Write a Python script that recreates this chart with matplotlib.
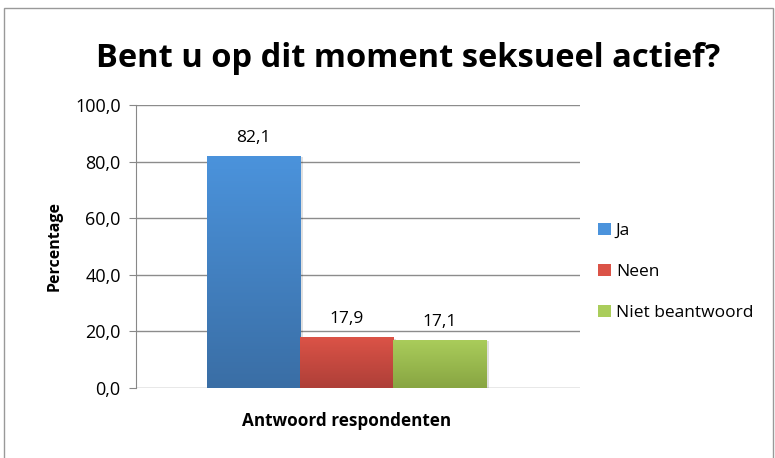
import numpy as np
import matplotlib
matplotlib.use("Agg")
import matplotlib.pyplot as plt
from matplotlib.patches import Rectangle, Patch
from matplotlib.ticker import FuncFormatter

# data
categories = ["Ja", "Neen", "Niet beantwoord"]
values = [82.1, 17.9, 17.1]
top_colors = ["#4b93dc", "#db5347", "#aacd5b"]
bottom_colors = ["#3a6ea5", "#ae3f38", "#88a542"]
yticks = [0, 20, 40, 60, 80, 100]

plt.rcParams['font.family'] = ['Open Sans', 'DejaVu Sans']

fig = plt.figure(figsize=(7.75, 4.58), dpi=100)
ax = fig.add_axes([136 / 775, 1 - 388 / 458, 444 / 775, 283 / 458])

x = np.arange(len(values))
bars = ax.bar(x, values, width=1.0, color=top_colors, zorder=3)

ax.set_xlim(-1.263, 3.51)
ax.set_ylim(0, 100)

# vertical gradient fill on every bar
for b, c1, c2 in zip(bars, top_colors, bottom_colors):
    t = np.array(matplotlib.colors.to_rgb(c1))
    u = np.array(matplotlib.colors.to_rgb(c2))
    grad = np.linspace(0, 1, 100)[:, None, None]
    img = t * (1 - grad) + u * grad
    x0, y0 = b.get_x(), b.get_y()
    w, h = b.get_width(), b.get_height()
    # soft shadow
    ax.add_patch(Rectangle((x0 + 0.03, y0), w, h - 0.6, color="#000000",
                           alpha=0.12, zorder=2, lw=0))
    im = ax.imshow(img, extent=(x0, x0 + w, y0, y0 + h), aspect='auto',
                   zorder=3.5, origin='upper')
    im.set_clip_path(b)

for xi, v in zip(x, values):
    ax.text(xi, v + 3.5, f"{v:.1f}".replace(".", ","), ha='center',
            va='bottom', fontsize=12.5)

ax.set_yticks(yticks)
ax.yaxis.set_major_formatter(FuncFormatter(lambda v, p: f"{v:.1f}".replace(".", ",")))
ax.tick_params(axis='y', labelsize=13, length=5, color="#888888", pad=6)
ax.set_xticks([])
ax.grid(axis='y', color="#8c8c8c", linewidth=1, zorder=0)
for s in ['top', 'right', 'bottom']:
    ax.spines[s].set_visible(False)
ax.spines['left'].set_color("#888888")

ax.set_ylabel("Percentage", fontsize=11.5, fontweight='bold', labelpad=9)
ax.set_xlabel("Antwoord respondenten", fontsize=12.3, fontweight='bold')
ax.xaxis.set_label_coords(0.474, -0.085)

fig.text(0.527, 0.872, "Bent u op dit moment seksueel actief?", ha='center',
         va='center', fontsize=23.5, fontweight='bold')

handles = [Patch(facecolor=c, edgecolor='none') for c in top_colors]
fig.legend(handles, categories, loc='center left', bbox_to_anchor=(0.752, 0.406),
           frameon=False, fontsize=12.5, handlelength=0.7, handleheight=0.7,
           handletextpad=0.3, labelspacing=1.45)

fig.add_artist(Rectangle((4 / 775, -0.01), 769 / 775, 1 - 8 / 458 + 0.01,
                         transform=fig.transFigure, fill=False,
                         edgecolor="#999999", linewidth=1))

plt.savefig("out.png", dpi=100)
